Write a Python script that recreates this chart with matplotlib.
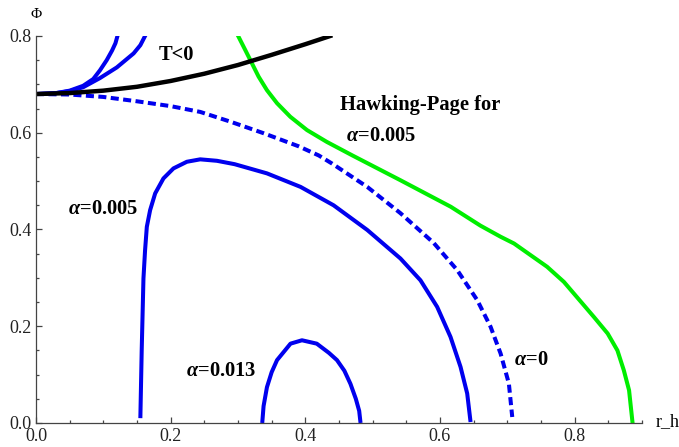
import matplotlib
matplotlib.use("Agg")
import matplotlib.pyplot as plt
from matplotlib.ticker import MultipleLocator

plt.rcParams["font.family"] = ["Liberation Serif", "DejaVu Serif"]
plt.rcParams["mathtext.fontset"] = "custom"
plt.rcParams["mathtext.it"] = "Liberation Serif:italic:bold"
plt.rcParams["mathtext.rm"] = "Liberation Serif:bold"

# T<0 boundary
black_x = [0, 0.05, 0.1, 0.15, 0.2, 0.25, 0.3, 0.35, 0.4, 0.437]
black_y = [0.680, 0.682, 0.687, 0.695, 0.707, 0.722, 0.740, 0.761, 0.783, 0.800]

# upper branches starting at Phi = 0.68
branch1_x = [0, 0.03, 0.05, 0.07, 0.085, 0.095, 0.105, 0.113, 0.118, 0.121]
branch1_y = [0.680, 0.682, 0.687, 0.697, 0.711, 0.729, 0.750, 0.770, 0.785, 0.800]
branch2_x = [0, 0.03, 0.05, 0.07, 0.095, 0.12, 0.145, 0.155, 0.162]
branch2_y = [0.680, 0.682, 0.686, 0.694, 0.713, 0.735, 0.764, 0.781, 0.800]

# alpha = 0 (dashed)
a0_x = [0, 0.05, 0.1, 0.15, 0.2, 0.244, 0.2885, 0.338, 0.39, 0.42, 0.44,
        0.492, 0.541, 0.5908, 0.6256, 0.6553, 0.6751, 0.69, 0.7023, 0.7073]
a0_y = [0.680, 0.679, 0.674, 0.665, 0.655, 0.643, 0.623, 0.599, 0.572, 0.553,
        0.536, 0.488, 0.434, 0.372, 0.316, 0.254, 0.199, 0.1436, 0.0815, 0.0124]

# alpha = 0.005
a5_x = [0.155, 0.157, 0.1596, 0.162, 0.1646, 0.1695, 0.177, 0.1893, 0.2042,
        0.2241, 0.2439, 0.2687, 0.295, 0.343, 0.393, 0.442, 0.492, 0.5413,
        0.571, 0.5958, 0.6156, 0.6305, 0.6404, 0.6454]
a5_y = [0.010, 0.150, 0.2987, 0.357, 0.4055, 0.440, 0.4746, 0.5056, 0.5263,
        0.540, 0.545, 0.542, 0.535, 0.516, 0.488, 0.450, 0.399, 0.340,
        0.295, 0.240, 0.178, 0.116, 0.061, 0.002]

# alpha = 0.013
a13_x = [0.336, 0.338, 0.343, 0.350, 0.358, 0.378, 0.395, 0.417, 0.435, 0.447,
         0.458, 0.467, 0.475, 0.480, 0.482]
a13_y = [0.0, 0.035, 0.074, 0.105, 0.130, 0.164, 0.171, 0.164, 0.145, 0.130,
         0.108, 0.081, 0.050, 0.025, 0.0]

# Hawking-Page curve for alpha = 0.005
hp_x = [0.3008, 0.3108, 0.3207, 0.3306, 0.343, 0.358, 0.3777, 0.4025, 0.432,
        0.47, 0.541, 0.616, 0.66, 0.69, 0.71, 0.759, 0.784, 0.8287, 0.849,
        0.8635, 0.873, 0.8808, 0.886]
hp_y = [0.7985, 0.771, 0.7435, 0.716, 0.688, 0.661, 0.633, 0.6055, 0.581,
        0.553, 0.502, 0.447, 0.408, 0.385, 0.371, 0.323, 0.2917, 0.219, 0.185,
        0.150, 0.109, 0.0676, 0.0]

fig = plt.figure(figsize=(6.79, 4.47), dpi=100)
ax = fig.add_axes([0.053, 0.0537, 0.8925, 0.8658])

lw = 2.9
ax.plot(hp_x, hp_y, color="#00ee00", lw=lw, solid_joinstyle="round")
ax.plot(a5_x, a5_y, color="#0000ee", lw=lw, solid_capstyle="butt", solid_joinstyle="round")
ax.plot(a13_x, a13_y, color="#0000ee", lw=lw, solid_capstyle="butt", solid_joinstyle="round")
ax.plot(a0_x, a0_y, color="#0000ee", lw=lw, linestyle=(0, (2.0, 1.1)))
ax.plot(branch1_x, branch1_y, color="#0000ee", lw=lw, solid_joinstyle="round")
ax.plot(branch2_x, branch2_y, color="#0000ee", lw=lw, solid_joinstyle="round")
ax.plot(black_x, black_y, color="black", lw=3.2, solid_joinstyle="round")

ax.set_xlim(0, 0.9)
ax.set_ylim(0, 0.8)

for s in ["top", "right"]:
    ax.spines[s].set_visible(False)
for s in ["left", "bottom"]:
    ax.spines[s].set_color("#444444")
    ax.spines[s].set_linewidth(0.9)

ax.xaxis.set_major_locator(MultipleLocator(0.2))
ax.xaxis.set_minor_locator(MultipleLocator(0.05))
ax.yaxis.set_major_locator(MultipleLocator(0.2))
ax.yaxis.set_minor_locator(MultipleLocator(0.05))
ax.tick_params(which="both", direction="in", color="#444444", width=0.9,
               labelsize=13, labelcolor="#222222")
ax.tick_params(which="major", length=4.5)
ax.tick_params(which="minor", length=2.5)
ax.set_xticks([0, 0.2, 0.4, 0.6, 0.8])
ax.set_xticklabels(["0.0", "0.2", "0.4", "0.6", "0.8"])
ax.set_yticks([0, 0.2, 0.4, 0.6, 0.8])
ax.set_yticklabels(["0.0", "0.2", "0.4", "0.6", "0.8"])

fig.text(36 / 679, 1 - 15 / 447, "Φ", ha="center", va="center", fontsize=11)
fig.text(668 / 679, 1 - 422 / 447, "r_h", ha="center", va="center", fontsize=13)

kw = dict(fontsize=14.8, fontweight="bold", ha="center", va="center")
ax.text(0.208, 0.76, "T<0", **kw)
ax.text(0.571, 0.657, "Hawking-Page for", **kw)
ax.text(0.512, 0.593, r"$\alpha$=0.005", **kw)
ax.text(0.0996, 0.442, r"$\alpha$=0.005", **kw)
ax.text(0.275, 0.107, r"$\alpha$=0.013", **kw)
ax.text(0.735, 0.13, r"$\alpha$=0", **kw)

fig.savefig("out.png", dpi=100)
